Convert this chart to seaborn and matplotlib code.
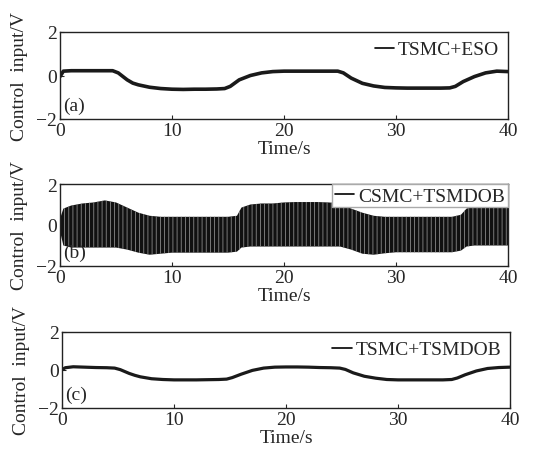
import matplotlib
matplotlib.use("Agg")
import matplotlib.pyplot as plt
from matplotlib.lines import Line2D
import seaborn as sns

# (a) TSMC+ESO control input
t_a = [0, 0.3, 1, 2, 3, 4, 4.7, 5.2, 6, 6.5, 7, 8, 9, 10, 11, 12, 13, 14, 14.7, 15.2,
       16, 17, 18, 19, 20, 21, 22, 23, 24, 24.8, 25.3, 26, 27, 28, 29, 30, 31, 32, 33, 34,
       34.8, 35.3, 36, 37, 38, 39, 40]
u_a = [-0.05, 0.2, 0.22, 0.22, 0.22, 0.22, 0.22, 0.12, -0.2, -0.35, -0.43, -0.54, -0.6, -0.63,
       -0.64, -0.63, -0.63, -0.62, -0.6, -0.5, -0.2, 0.0, 0.12, 0.18, 0.2, 0.2, 0.2, 0.2, 0.2,
       0.2, 0.12, -0.12, -0.36, -0.48, -0.55, -0.57, -0.58, -0.58, -0.58, -0.58, -0.57, -0.5,
       -0.28, -0.05, 0.12, 0.2, 0.18]

# (b) CSMC+TSMDOB chattering band: upper / lower envelope
t_b = [0, 0.3, 1, 2, 3, 4, 5, 6, 7, 8, 9, 10, 11, 12, 13, 14, 15, 15.8, 16.2, 17, 18, 19,
       20, 21, 22, 23, 24, 25, 26, 27, 28, 29, 30, 31, 32, 33, 34, 35, 35.8, 36.3, 37, 38, 39, 40]
hi_b = [0.3, 0.8, 0.95, 1.05, 1.1, 1.2, 1.1, 0.85, 0.6, 0.45, 0.4, 0.4, 0.4, 0.4, 0.4, 0.4,
        0.4, 0.45, 0.85, 1.0, 1.05, 1.05, 1.1, 1.12, 1.12, 1.12, 1.1, 1.05, 0.8, 0.6, 0.45,
        0.4, 0.4, 0.4, 0.4, 0.4, 0.4, 0.4, 0.5, 0.8, 0.9, 0.95, 0.95, 0.95]
lo_b = [-0.3, -1.0, -1.1, -1.1, -1.1, -1.1, -1.1, -1.2, -1.35, -1.45, -1.4, -1.35, -1.35,
        -1.35, -1.35, -1.35, -1.35, -1.3, -1.1, -1.05, -1.05, -1.05, -1.05, -1.05, -1.05,
        -1.05, -1.05, -1.05, -1.2, -1.4, -1.45, -1.38, -1.33, -1.33, -1.33, -1.33, -1.33,
        -1.33, -1.25, -1.05, -1.0, -1.0, -1.0, -1.0]

# (c) TSMC+TSMDOB control input
t_c = t_a
u_c = [0.02, 0.12, 0.17, 0.15, 0.13, 0.12, 0.1, 0.02, -0.18, -0.28, -0.36, -0.46, -0.5, -0.52,
       -0.52, -0.52, -0.51, -0.5, -0.48, -0.4, -0.22, -0.02, 0.1, 0.15, 0.16, 0.16, 0.15, 0.13,
       0.12, 0.1, 0.03, -0.15, -0.33, -0.43, -0.5, -0.52, -0.52, -0.52, -0.52, -0.52, -0.5,
       -0.42, -0.25, -0.05, 0.08, 0.13, 0.15]

labels = ["TSMC+ESO", "CSMC+TSMDOB", "TSMC+TSMDOB"]
tags = ["(a)", "(b)", "(c)"]

sns.set_theme(style="ticks")
plt.rcParams["font.family"] = ["Liberation Serif", "DejaVu Serif"]
plt.rcParams["hatch.linewidth"] = 0.6

fig = plt.figure(figsize=(5.34, 4.52), dpi=100)
W, H = 534, 452
boxes = [(60, 33, 508, 120), (60, 185, 508, 267), (62, 333, 510, 409)]
axes = []
for l, t, r, b in boxes:
    axes.append(fig.add_axes([l / W, (H - b) / H, (r - l) / W, (b - t) / H]))

sns.lineplot(x=t_a, y=u_a, ax=axes[0], color="#1a1a1a", linewidth=2.6, legend=False)
axes[1].fill_between(t_b, lo_b, hi_b, facecolor="#111111", edgecolor="#8a8a8a",
                     hatch="||||", linewidth=0)
sns.lineplot(x=t_c, y=u_c, ax=axes[2], color="#1a1a1a", linewidth=2.3, legend=False)

for i, ax in enumerate(axes):
    ax.set_xlim(0, 40)
    ax.set_ylim(-2, 2)
    ax.set_xticks([0, 10, 20, 30, 40])
    ax.set_yticks([-2, 0, 2])
    ax.tick_params(direction="in", length=3, width=0.8, labelsize=14, pad=2)
    for s in ax.spines.values():
        s.set_linewidth(1.0)
        s.set_color("#222222")
    ax.set_xlabel("Time/s", fontsize=14, labelpad=1)
    ax.set_ylabel("Control  input/V", fontsize=14, labelpad=6)
    ax.text(0.008, 0.06, tags[i], transform=ax.transAxes, fontsize=14, ha="left", va="bottom")
    handle = Line2D([], [], color="black", linewidth=1.2)
    ax.legend([handle], [labels[i]], loc="upper right", fontsize=14, handlelength=1.0,
              handletextpad=0.2, borderpad=0.15, borderaxespad=0.3 if i != 1 else 0.0,
              fancybox=False, framealpha=1, facecolor="white",
              edgecolor="#aaaaaa" if i == 1 else "none")

fig.savefig("out.png", dpi=100)
